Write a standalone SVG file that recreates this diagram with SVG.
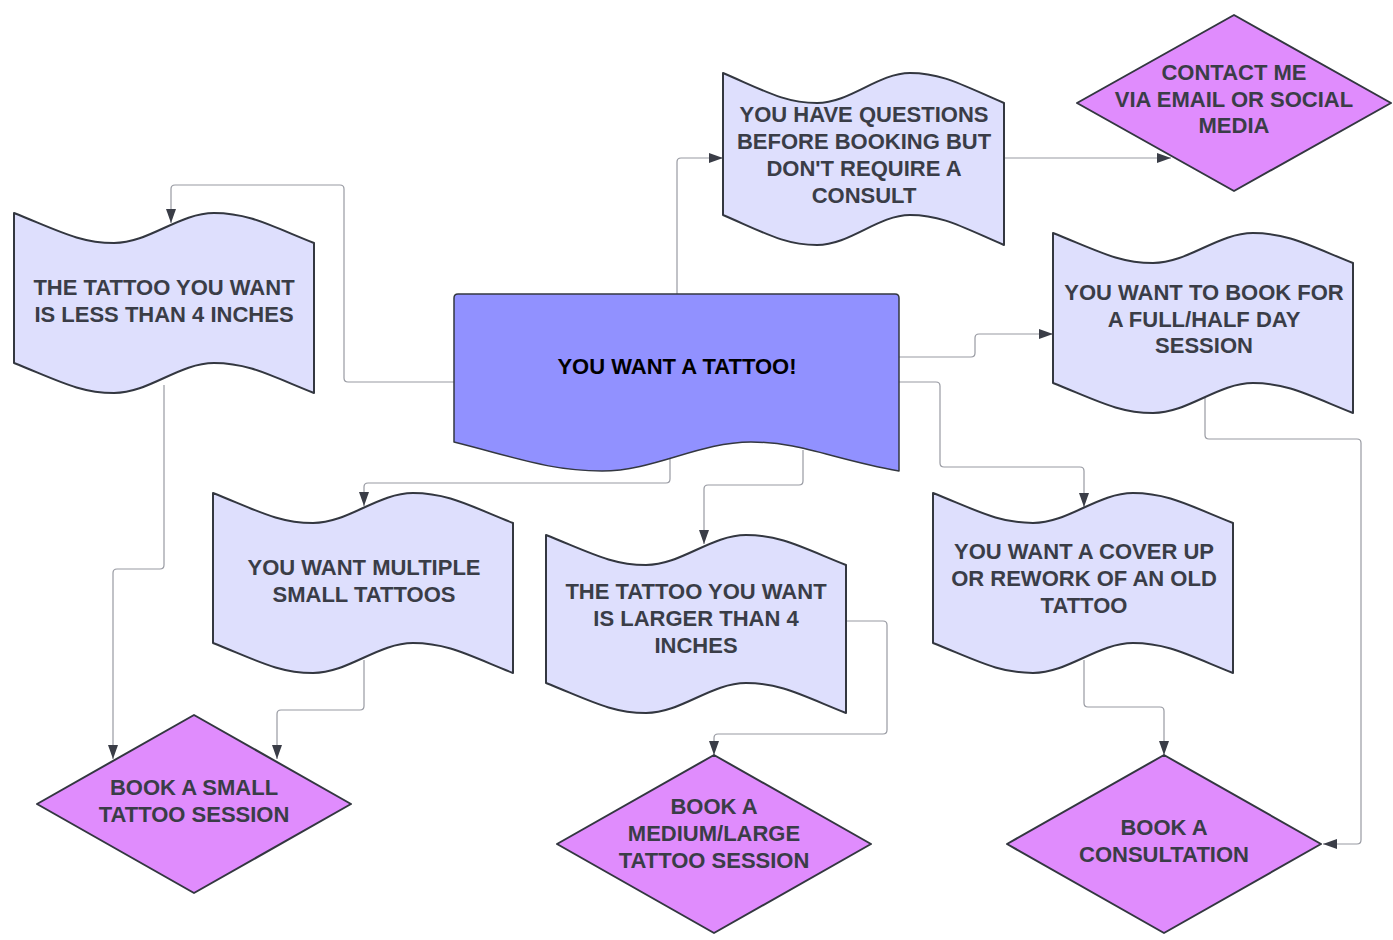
<svg xmlns="http://www.w3.org/2000/svg" width="1393" height="940" viewBox="0 0 1393 940">
<style>
.tape{fill:#dedffd;stroke:#333740;stroke-width:2;stroke-linejoin:round}
.main{fill:#9191ff;stroke:#333740;stroke-width:1.5;stroke-linejoin:round}
.dia{fill:#e08cfd;stroke:#333740;stroke-width:2;stroke-linejoin:round}
.t{font-family:"Liberation Sans",Arial,sans-serif;font-weight:bold;font-size:22px;fill:#3a3d47;text-anchor:middle}
.tm{fill:#000}
.c{fill:none;stroke:#989aa2;stroke-width:1.2;marker-end:url(#ah)}
</style>
<defs>
<marker id="ah" viewBox="0 0 14 10" refX="14" refY="5" markerWidth="14" markerHeight="10" markerUnits="userSpaceOnUse" orient="auto">
<path d="M0,0 L14,5 L0,10 z" fill="#3a3d47"/>
</marker>
</defs>
<rect width="1393" height="940" fill="#ffffff"/>
<g id="connectors">
<path class="c" d="M454,382 L348,382 Q344,382 344,378 L344,189 Q344,185 340,185 L175,185 Q171,185 171,189 L171,223"/>
<path class="c" d="M677,296 L677,162 Q677,158 681,158 L723,158"/>
<path class="c" d="M1004,158 L1171,158"/>
<path class="c" d="M899,357 L971,357 Q975,357 975,353 L975,338 Q975,334 979,334 L1053,334"/>
<path class="c" d="M899,382 L936,382 Q940,382 940,386 L940,463 Q940,467 944,467 L1080,467 Q1084,467 1084,471 L1084,507"/>
<path class="c" d="M1205,395 L1205,435 Q1205,439 1209,439 L1357,439 Q1361,439 1361,443 L1361,840 Q1361,844 1357,844 L1323,844"/>
<path class="c" d="M670,455 L670,479 Q670,483 666,483 L368,483 Q364,483 364,487 L364,506"/>
<path class="c" d="M803,450 L803,481 Q803,485 799,485 L708,485 Q704,485 704,489 L704,544"/>
<path class="c" d="M846,621 L883,621 Q887,621 887,625 L887,730 Q887,734 883,734 L718,734 Q714,734 714,738 L714,755"/>
<path class="c" d="M164,385 L164,565 Q164,569 160,569 L117,569 Q113,569 113,573 L113,759"/>
<path class="c" d="M364,660 L364,706 Q364,710 360,710 L281,710 Q277,710 277,714 L277,759"/>
<path class="c" d="M1084,660 L1084,703 Q1084,707 1088,707 L1160,707 Q1164,707 1164,711 L1164,755"/>
</g>
<g id="node-main">
<path class="main" d="M454,298 Q454,294 458,294 L895,294 Q899,294 899,298 L899,471 C832,459 801,442 751,442 C699,442 654,471 602,471 C552,471 521,459 454,442 Z"/>
<text class="t tm" x="677" y="374">YOU WANT A TATTOO!</text>
</g>
<g id="node-less4">
<path class="tape" d="M14,213 C59,231 80,243 114,243 C149,243 179,213 214,213 C248,213 269,225 314,243 L314,393 C269,375 248,363 214,363 C179,363 149,393 114,393 C80,393 59,381 14,363 Z"/>
<text class="t" x="164" y="295">THE TATTOO YOU WANT</text>
<text class="t" x="164" y="322">IS LESS THAN 4 INCHES</text>
</g>
<g id="node-questions">
<path class="tape" d="M723,73 C765,91 785,103 817,103 C850,103 878,73 910,73 C942,73 962,85 1004,103 L1004,245 C962,227 942,215 910,215 C878,215 850,245 817,245 C785,245 765,233 723,215 Z"/>
<text class="t" x="864" y="122">YOU HAVE QUESTIONS</text>
<text class="t" x="864" y="149">BEFORE BOOKING BUT</text>
<text class="t" x="864" y="176">DON'T REQUIRE A</text>
<text class="t" x="864" y="203">CONSULT</text>
</g>
<g id="node-contact">
<polygon class="dia" points="1077,103 1234,15 1391,103 1234,191"/>
<text class="t" x="1234" y="80">CONTACT ME</text>
<text class="t" x="1234" y="107">VIA EMAIL OR SOCIAL</text>
<text class="t" x="1234" y="133">MEDIA</text>
</g>
<g id="node-fullday">
<path class="tape" d="M1053,233 C1098,251 1119,263 1153,263 C1188,263 1218,233 1253,233 C1287,233 1308,245 1353,263 L1353,413 C1308,395 1287,383 1253,383 C1218,383 1188,413 1153,413 C1119,413 1098,401 1053,383 Z"/>
<text class="t" x="1204" y="300">YOU WANT TO BOOK FOR</text>
<text class="t" x="1204" y="327">A FULL/HALF DAY</text>
<text class="t" x="1204" y="353">SESSION</text>
</g>
<g id="node-multiple">
<path class="tape" d="M213,493 C258,511 279,523 313,523 C348,523 378,493 413,493 C447,493 468,505 513,523 L513,673 C468,655 447,643 413,643 C378,643 348,673 313,673 C279,673 258,661 213,643 Z"/>
<text class="t" x="364" y="575">YOU WANT MULTIPLE</text>
<text class="t" x="364" y="602">SMALL TATTOOS</text>
</g>
<g id="node-larger4">
<path class="tape" d="M546,535 C591,553 612,565 646,565 C681,565 711,535 746,535 C780,535 801,547 846,565 L846,713 C801,695 780,683 746,683 C711,683 681,713 646,713 C612,713 591,701 546,683 Z"/>
<text class="t" x="696" y="599">THE TATTOO YOU WANT</text>
<text class="t" x="696" y="626">IS LARGER THAN 4</text>
<text class="t" x="696" y="653">INCHES</text>
</g>
<g id="node-coverup">
<path class="tape" d="M933,493 C978,511 999,523 1033,523 C1068,523 1098,493 1133,493 C1167,493 1188,505 1233,523 L1233,673 C1188,655 1167,643 1133,643 C1098,643 1068,673 1033,673 C999,673 978,661 933,643 Z"/>
<text class="t" x="1084" y="559">YOU WANT A COVER UP</text>
<text class="t" x="1084" y="586">OR REWORK OF AN OLD</text>
<text class="t" x="1084" y="613">TATTOO</text>
</g>
<g id="node-small">
<polygon class="dia" points="37,804 194,715 351,804 194,893"/>
<text class="t" x="194" y="795">BOOK A SMALL</text>
<text class="t" x="194" y="822">TATTOO SESSION</text>
</g>
<g id="node-medium">
<polygon class="dia" points="557,844 714,755 871,844 714,933"/>
<text class="t" x="714" y="814">BOOK A</text>
<text class="t" x="714" y="841">MEDIUM/LARGE</text>
<text class="t" x="714" y="868">TATTOO SESSION</text>
</g>
<g id="node-consult">
<polygon class="dia" points="1007,844 1164,755 1321,844 1164,933"/>
<text class="t" x="1164" y="835">BOOK A</text>
<text class="t" x="1164" y="862">CONSULTATION</text>
</g>
</svg>
